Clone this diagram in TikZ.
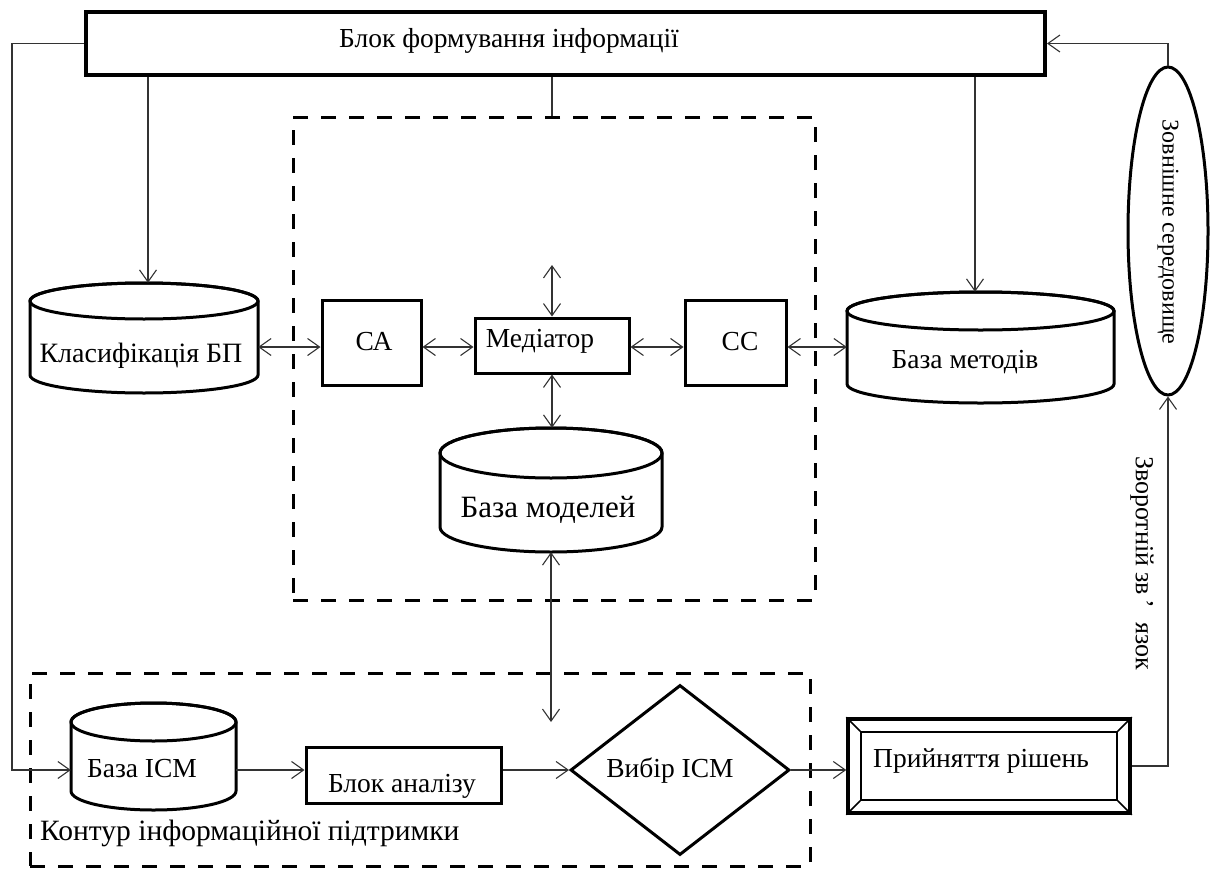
\documentclass[tikz,border=0pt]{standalone}
\usepackage{fontspec}
\setmainfont{Liberation Serif}
\usetikzlibrary{arrows.meta,shapes.geometric,calc}
\newcommand\dbcyl[7]{%
  \pgfmathsetmacro\dbCx{(#2+#4)/2}%
  \pgfmathsetmacro\dbRx{(#4-#2)/2}%
  \pgfmathsetmacro\dbW{#4-#2}%
  \pgfmathsetmacro\dbH{#5-#3}%
  \pgfmathsetmacro\dbCy{(#3+#5)/2}%
  \draw[cylw, fill=white] (#2,#3+#6) -- (#2,#5-#6)
     arc[start angle=180,end angle=0,x radius=\dbRx,y radius=#6]
     -- (#4,#3+#6)
     arc[start angle=0,end angle=-180,x radius=\dbRx,y radius=#6] -- cycle;
  \draw[cylw] (\dbCx,#3+#6) ellipse[x radius=\dbRx, y radius=#6];
  \node[inner sep=0pt, minimum width=\dbW pt, minimum height=\dbH pt] (#1) at (\dbCx,\dbCy) {};
}
\begin{document}
\begin{tikzpicture}[x=1pt,y=-1pt,
  conn/.style={line width=1.1pt, draw=black!80},
  arr/.style={conn,-{Straight Barb[length=12pt,width=17pt]}},
  darr/.style={conn,{Straight Barb[length=12pt,width=17pt]}-{Straight Barb[length=12pt,width=17pt]}},
  cylw/.style={line width=3pt},
  box/.style={draw, line width=3pt, inner sep=0pt},
  dbox/.style={draw, line width=3pt, dash pattern=on 15pt off 13pt, inner sep=0pt},
  txt/.style={inner sep=0pt, font=\fontsize{27.5}{32}\selectfont},
]
\useasboundingbox (0,0) rectangle (1215,870);

% dashed contours
\node[dbox, minimum width=522pt, minimum height=483pt] (core) at (554,358.5) {};
\node[dbox, minimum width=780pt, minimum height=193pt] (contour) at (420,769.5) {};

% top block
\node[box, line width=4pt, minimum width=959pt, minimum height=63pt] (top) at (565.5,43.5) {};
\node[txt, anchor=base] (topt) at (509,47) {Блок формування інформації};

% central boxes
\node[box, minimum width=99pt, minimum height=85pt] (CA) at (371.5,342.5) {};
\node[txt, anchor=base] (CAt) at (374,350) {СА};
\node[box, minimum width=154pt, minimum height=55pt] (med) at (552,345.5) {};
\node[txt, anchor=base] (medt) at (540,347) {Медіатор};
\node[box, minimum width=101pt, minimum height=85pt] (CC) at (735.5,342.5) {};
\node[txt, anchor=base] (CCt) at (740,350) {СС};

% cylinders
\dbcyl{klas}{30}{283}{258}{393}{18}{}
\node[txt, anchor=base, font=\fontsize{28}{32}\selectfont] (klast) at (141,362) {Класифікація БП};
\dbcyl{bmet}{847}{292}{1114}{403}{19}{}
\node[txt, anchor=base] (bmett) at (965,368) {База методів};
\dbcyl{bmod}{440}{428}{662}{552}{25}{}
\node[txt, anchor=base, font=\fontsize{31}{36}\selectfont] (bmodt) at (548,517) {База моделей};
\dbcyl{bicm}{71}{703}{236}{810}{19}{}
\node[txt, anchor=base] (bicmt) at (142,777) {База ІСМ};

% bottom row
\node[box, minimum width=195pt, minimum height=56pt] (ablk) at (403.5,775) {};
\node[txt, anchor=base] (ablkt) at (402,792) {Блок аналізу};
\node[diamond, draw, line width=3pt, minimum width=219pt, minimum height=170pt, inner sep=0pt] (dia) at (680,770) {};
\node[txt, anchor=base] (diat) at (670,777) {Вибір ІСМ};
\node[draw, line width=3.5pt, minimum width=282pt, minimum height=94pt, inner sep=0pt] (prin) at (989,766) {};
\node[draw, line width=1.6pt, minimum width=256pt, minimum height=68pt, inner sep=0pt] (prini) at (989,766) {};
\draw[line width=1.6pt] (prin.north west) -- (prini.north west);
\draw[line width=1.6pt] (prin.north east) -- (prini.north east);
\draw[line width=1.6pt] (prin.south west) -- (prini.south west);
\draw[line width=1.6pt] (prin.south east) -- (prini.south east);
\node[txt, anchor=base] (print) at (981,767) {Прийняття рішень};
\node[txt, anchor=base west, font=\fontsize{29.5}{34}\selectfont] (contourt) at (40,840) {Контур інформаційної підтримки};

% external environment
\node[ellipse, draw, line width=3pt, minimum width=80pt, minimum height=328pt, inner sep=0pt] (env) at (1168,231) {};
\node[txt, rotate=-90, font=\fontsize{24}{28}\selectfont] (envt) at (1168,232) {Зовнішне середовище};
\node[txt, rotate=-90, font=\fontsize{26}{30}\selectfont] (fbt) at (1142,563) {Зворотній зв\,’\hspace{14pt}язок};

% helper coordinates
\coordinate (lft) at (12,45);
\coordinate (rowb) at (0,770);
\coordinate (r1) at (0,347);
\coordinate (medup) at (552,265);
\coordinate (bmdn) at (552,722);
\coordinate (klasx) at (148,0);
\coordinate (bmetx) at (975,0);

% connectors
\draw[arr] (top.west) -- (top.west -| lft) -- (lft |- rowb) -- (bicm.west |- rowb);
\draw[arr] (top.south -| klasx) -- (klasx |- klas.north);
\draw[conn] (top.south -| med.north) -- (core.north -| med.north);
\draw[arr] (top.south -| bmetx) -- (bmetx |- bmet.north);
\draw[arr] (env.north) |- (top.east);
\draw[arr] (prin.east) -| (env.south);

\draw[darr] (klas.east |- r1) -- (CA.west |- r1);
\draw[darr] (CA.east |- r1) -- (med.west |- r1);
\draw[darr] (med.east |- r1) -- (CC.west |- r1);
\draw[darr] (CC.east |- r1) -- (bmet.west |- r1);
\draw[darr] (med.north) -- (medup);
\draw[darr] (med.south) -- (med.south |- bmod.north);
\draw[darr] (bmod.south) -- (bmod.south |- bmdn);

\draw[arr] (bicm.east |- rowb) -- (ablk.west |- rowb);
\draw[arr] (ablk.east |- rowb) -- (dia.west);
\draw[arr] (dia.east) -- (prin.west |- dia.east);
\end{tikzpicture}
\end{document}
